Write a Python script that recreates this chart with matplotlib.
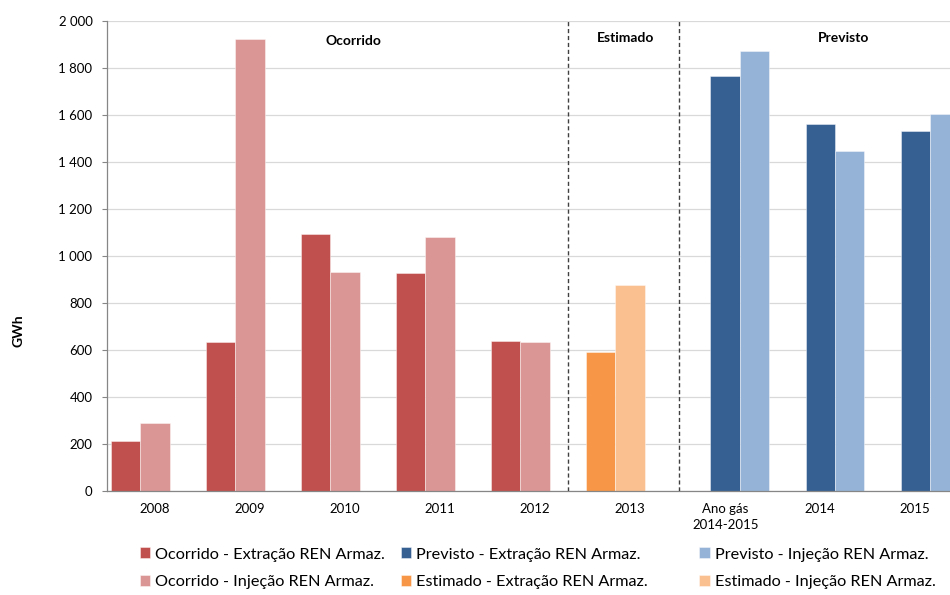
import matplotlib
matplotlib.use("Agg")
import matplotlib.pyplot as plt
from matplotlib.ticker import FuncFormatter

plt.rcParams['font.family'] = ['Lato', 'DejaVu Sans']

# categorias do eixo x
anos = ['2008', '2009', '2010', '2011', '2012', '2013',
        'Ano gás\n2014-2015', '2014', '2015']

# GWh
ocorrido_extracao = [212, 634, 1094, 926, 638]
ocorrido_injecao = [287, 1923, 929, 1080, 634]
estimado_extracao = [593]
estimado_injecao = [877]
previsto_extracao = [1766, 1560, 1529]
previsto_injecao = [1872, 1447, 1604]

cores = {
    'oc_ext': '#C0504D', 'oc_inj': '#D99694',
    'es_ext': '#F79646', 'es_inj': '#FAC090',
    'pr_ext': '#376092', 'pr_inj': '#95B3D7',
}

w = 0.31
fig = plt.figure(figsize=(9.5, 5.95), dpi=100)
ax = fig.add_axes([0.1126, 0.1748, 0.8874, 0.7906])

borda = dict(edgecolor=(1, 1, 1, 0.5), linewidth=0.6)
x_oc = [0, 1, 2, 3, 4]
x_es = [5]
x_pr = [6, 7, 8]

b1 = ax.bar([x - w for x in x_oc], ocorrido_extracao, w, color=cores['oc_ext'], **borda)
b2 = ax.bar(x_oc, ocorrido_injecao, w, color=cores['oc_inj'], **borda)
b3 = ax.bar([x - w for x in x_es], estimado_extracao, w, color=cores['es_ext'], **borda)
b4 = ax.bar(x_es, estimado_injecao, w, color=cores['es_inj'], **borda)
b5 = ax.bar(x_pr, previsto_extracao, w, color=cores['pr_ext'], **borda)
b6 = ax.bar([x + w for x in x_pr], previsto_injecao, w, color=cores['pr_inj'], **borda)

# separadores entre periodos
for xs in [4.345, 5.51]:
    ax.axvline(xs, color='#404040', linestyle=(0, (3, 2)), linewidth=1.0, zorder=3)

ax.text(2.09, 1915, 'Ocorrido', ha='center', va='center', fontsize=10, fontweight='bold')
ax.text(4.95, 1928, 'Estimado', ha='center', va='center', fontsize=10, fontweight='bold')
ax.text(7.24, 1924, 'Previsto', ha='center', va='center', fontsize=10, fontweight='bold')

ax.set_xlim(-0.505, 8.365)
ax.set_ylim(0, 2000)
ax.set_yticks(range(0, 2001, 200))
ax.yaxis.set_major_formatter(FuncFormatter(lambda v, p: f'{v:,.0f}'.replace(',', ' ')))
ax.set_xticks(range(len(anos)))
ax.set_xticklabels(anos, linespacing=1.35)

ax.grid(axis='y', color='#D9D9D9', linewidth=0.9)
ax.set_axisbelow(True)
for s in ['top', 'right']:
    ax.spines[s].set_visible(False)
for s in ['left', 'bottom']:
    ax.spines[s].set_color('#868686')
    ax.spines[s].set_linewidth(0.9)
ax.tick_params(axis='y', length=3.5, color='#868686', labelsize=9.5, pad=7)
ax.tick_params(axis='x', length=0, labelsize=9.5, pad=9)

ax.set_ylabel('GWh', fontsize=10, fontweight='bold')
ax.yaxis.set_label_coords(-0.098, 0.34)

# legenda em tres colunas
colunas = [
    ([b1, b2], ['Ocorrido - Extração REN Armaz.', 'Ocorrido - Injeção REN Armaz.'], 0.147),
    ([b5, b3], ['Previsto - Extração REN Armaz.', 'Estimado - Extração REN Armaz.'], 0.422),
    ([b6, b4], ['Previsto - Injeção REN Armaz.', 'Estimado - Injeção REN Armaz.'], 0.736),
]
for hs, ls, x0 in colunas:
    fig.legend(hs, ls, loc='upper left', bbox_to_anchor=(x0, 0.080),
               bbox_transform=fig.transFigure, frameon=False, fontsize=11.7,
               handlelength=0.65, handleheight=0.65, handletextpad=0.3,
               labelspacing=0.85, borderaxespad=0, borderpad=0)

fig.savefig('out.png', dpi=100)
